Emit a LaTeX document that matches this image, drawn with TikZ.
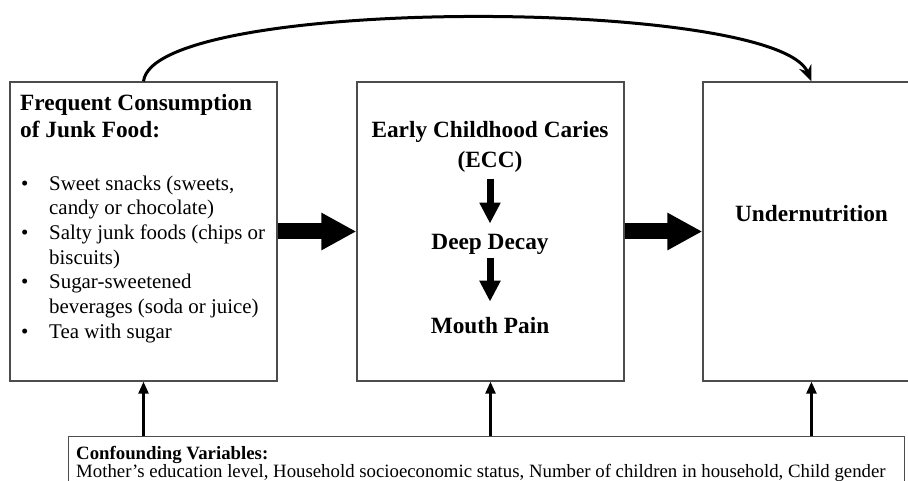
\documentclass[tikz,border=0pt]{standalone}
\usepackage{fontspec}
\setmainfont{Liberation Serif}
\usetikzlibrary{arrows.meta, positioning}

\begin{document}
\begin{tikzpicture}[x=1pt, y=-1pt,
    frame/.style={draw=black!70, line width=1.3pt, minimum width=267pt, minimum height=299pt, inner sep=0pt},
    heading/.style={font=\fontsize{23.3}{27}\selectfont\bfseries, inner sep=0pt},
    listtext/.style={font=\fontsize{20.9}{24.7}\selectfont, inner sep=0pt},
    bigarrow/.style={line width=16pt, -{Triangle[length=35pt, width=35pt]}},
    smallarrow/.style={line width=7pt, -{Triangle[length=21pt, width=20pt]}},
    uparrow/.style={line width=2.5pt, -{Triangle[length=12pt, width=10pt]}},
    curvearrow/.style={line width=3pt, -{Stealth[length=16pt, width=13pt]}}
]
    \useasboundingbox (0,0) rectangle (908,481);
    \clip (0,0) rectangle (908,481);

    % Boxes
    \node[frame] (junkbox) at (143.5,231.5) {};
    \node[frame] (eccbox) at (490.5,231.5) {};
    \node[frame, minimum width=217pt] (underbox) at (811.5,231.5) {};
    \node[frame, minimum width=836pt, minimum height=70pt, anchor=north west] (confbox) at (68,436) {};

    % Texts
    \node[heading, align=left, anchor=north west] (junk) at (20,94) {Frequent Consumption\\of Junk Food:};
    \node[listtext, anchor=north west] (junklist) at (21,172.7) {%
        \begin{tabular}{@{}p{28pt}@{}l@{}}
            \textbullet & Sweet snacks (sweets,\\
                        & candy or chocolate)\\
            \textbullet & Salty junk foods (chips or\\
                        & biscuits)\\
            \textbullet & Sugar-sweetened\\
                        & beverages (soda or juice)\\
            \textbullet & Tea with sugar
        \end{tabular}};

    \node[heading, font=\fontsize{23.3}{30}\selectfont\bfseries, align=center, anchor=north] (ecc) at (490,121) {Early Childhood Caries\\(ECC)};
    \node[heading, anchor=base] (decay) at (490,250) {Deep Decay};
    \node[heading, anchor=base] (pain) at (490,333) {Mouth Pain};

    \node[heading, anchor=base] (under) at (811.5,222) {Undernutrition};

    \node[anchor=north west, align=left, font=\fontsize{18.8}{18.5}\selectfont, inner sep=0pt] (conf) at (76,446) {\textbf{Confounding Variables:}\\Mother’s education level, Household socioeconomic status, Number of children in household, Child gender};

    % Arrows
    \draw[bigarrow] (junkbox) -- (eccbox);
    \draw[bigarrow] (eccbox) -- (underbox);

    \draw[smallarrow] ([yshift=-6pt]ecc.south) -- ([yshift=11pt]decay.north);
    \draw[smallarrow] ([yshift=-3pt]decay.south) -- ([yshift=15pt]pain.north);

    \draw[curvearrow] (junkbox.north) .. controls +(10,-86) and +(-35,-84) .. (underbox.north);

    \draw[uparrow] (confbox.north -| junkbox) -- (junkbox.south);
    \draw[uparrow] (confbox.north -| eccbox) -- (eccbox.south);
    \draw[uparrow] (confbox.north -| underbox) -- (underbox.south);
\end{tikzpicture}
\end{document}
